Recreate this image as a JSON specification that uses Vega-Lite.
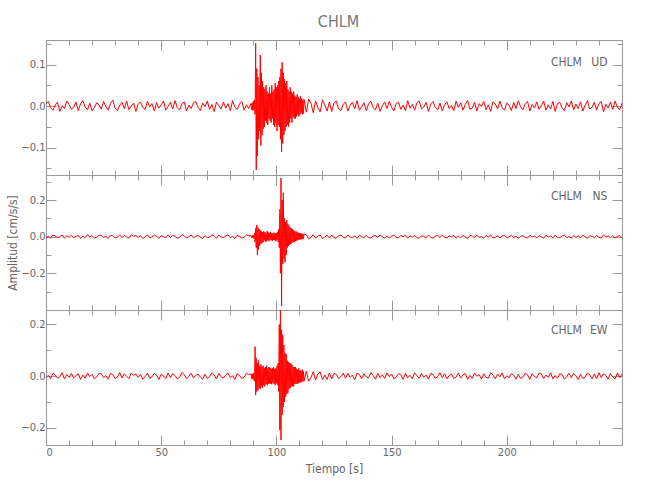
{
"$schema":"https://vega.github.io/schema/vega-lite/v6.json",
"background":"white",
"bounds":"flush",
"padding":{"left":6,"top":14,"right":26,"bottom":5},
"title":{"text":"CHLM","font":"DejaVu Sans Condensed, Liberation Sans, sans-serif","fontSize":16,"fontWeight":"normal","color":"#777","anchor":"middle","offset":9,"dx":23},
"spacing":0,
"config":{"view":{"stroke":"#999","strokeWidth":1},"concat":{"spacing":0},
"axis":{"domain":false,"grid":false,"tickColor":"#999","tickWidth":1,"labelColor":"#666","labelFont":"DejaVu Sans Condensed, Liberation Sans, sans-serif","labelFontSize":11,"titleFont":"DejaVu Sans Condensed, Liberation Sans, sans-serif","titleFontSize":12,"titleColor":"#666","titleFontWeight":"normal"}},
"datasets":{
"lab":[{"p":"UD","t":232.6,"v":0.106,"s":"CHLM"},{"p":"UD","t":243.7,"v":0.106,"s":"UD"},{"p":"NS","t":232.6,"v":0.222,"s":"CHLM"},{"p":"NS","t":243.7,"v":0.222,"s":"NS"},{"p":"EW","t":232.6,"v":0.178,"s":"CHLM"},{"p":"EW","t":243.7,"v":0.178,"s":"EW"}],
"ud":[{"t":0,"v":0.006},{"t":1,"v":0.011},{"t":2,"v":-0.004},{"t":3,"v":-0.010},{"t":4,"v":0.002},{"t":5,"v":0.009},{"t":6,"v":-0.013},{"t":7,"v":0.001},{"t":8,"v":-0.006},{"t":9,"v":0.012},{"t":10,"v":0.004},{"t":11,"v":-0.008},{"t":12,"v":-0.003},{"t":13,"v":0.010},{"t":14,"v":-0.011},{"t":15,"v":0.005},{"t":16,"v":0.013},{"t":17,"v":-0.002},{"t":18,"v":-0.009},{"t":19,"v":0.007},{"t":20,"v":-0.012},{"t":21,"v":-0.004},{"t":22,"v":0.008},{"t":23,"v":0.003},{"t":24,"v":-0.007},{"t":25,"v":0.011},{"t":26,"v":-0.001},{"t":27,"v":-0.010},{"t":28,"v":0.006},{"t":29,"v":0.014},{"t":30,"v":-0.005},{"t":31,"v":-0.011},{"t":32,"v":0.002},{"t":33,"v":0.009},{"t":34,"v":-0.006},{"t":35,"v":0.012},{"t":36,"v":-0.009},{"t":37,"v":0.000},{"t":38,"v":0.007},{"t":39,"v":-0.013},{"t":40,"v":0.004},{"t":41,"v":0.010},{"t":42,"v":-0.003},{"t":43,"v":-0.008},{"t":44,"v":0.011},{"t":45,"v":-0.002},{"t":46,"v":0.006},{"t":47,"v":-0.012},{"t":48,"v":0.008},{"t":49,"v":-0.005},{"t":50,"v":0.003},{"t":51,"v":0.012},{"t":52,"v":-0.010},{"t":53,"v":-0.001},{"t":54,"v":0.009},{"t":55,"v":-0.007},{"t":56,"v":0.013},{"t":57,"v":-0.004},{"t":58,"v":-0.009},{"t":59,"v":0.005},{"t":60,"v":0.010},{"t":61,"v":-0.012},{"t":62,"v":0.002},{"t":63,"v":-0.006},{"t":64,"v":0.008},{"t":65,"v":0.011},{"t":66,"v":-0.003},{"t":67,"v":-0.011},{"t":68,"v":0.007},{"t":69,"v":-0.002},{"t":70,"v":0.012},{"t":71,"v":-0.008},{"t":72,"v":0.004},{"t":73,"v":-0.013},{"t":74,"v":0.009},{"t":75,"v":0.001},{"t":76,"v":-0.007},{"t":77,"v":0.010},{"t":78,"v":-0.005},{"t":79,"v":0.006},{"t":80,"v":-0.011},{"t":81,"v":0.013},{"t":82,"v":-0.003},{"t":83,"v":-0.008},{"t":84,"v":0.005},{"t":85,"v":0.011},{"t":86,"v":-0.010},{"t":87,"v":0.003},{"t":88,"v":-0.006},
{"t":89,"v":0.006},{"t":89.25,"v":-0.009},{"t":89.5,"v":0.008},{"t":89.75,"v":-0.011},{"t":90,"v":0.012},{"t":90.25,"v":-0.010},{"t":90.5,"v":0.015},{"t":90.75,"v":-0.02},{"t":91,"v":0.151},{"t":91.25,"v":-0.154},{"t":91.5,"v":0.09},{"t":91.75,"v":-0.12},{"t":92,"v":0.07},{"t":92.25,"v":-0.08},{"t":92.5,"v":0.05},{"t":92.75,"v":-0.06},{"t":93,"v":0.123},{"t":93.25,"v":-0.095},{"t":93.5,"v":0.08},{"t":93.75,"v":-0.07},{"t":94,"v":0.06},{"t":94.25,"v":-0.055},{"t":94.5,"v":0.045},{"t":94.75,"v":-0.05},{"t":95,"v":0.04},{"t":95.25,"v":-0.035},{"t":95.5,"v":0.05},{"t":95.75,"v":-0.04},{"t":96,"v":0.035},{"t":96.25,"v":-0.045},{"t":96.5,"v":0.03},{"t":96.75,"v":-0.03},{"t":97,"v":0.045},{"t":97.25,"v":-0.035},{"t":97.5,"v":0.03},{"t":97.75,"v":-0.04},{"t":98,"v":0.05},{"t":98.25,"v":-0.03},{"t":98.5,"v":0.035},{"t":98.75,"v":-0.045},{"t":99,"v":0.04},{"t":99.25,"v":-0.05},{"t":99.5,"v":0.055},{"t":99.75,"v":-0.04},{"t":100,"v":0.045},{"t":100.25,"v":-0.06},{"t":100.5,"v":0.05},{"t":100.75,"v":-0.045},{"t":101,"v":0.06},{"t":101.25,"v":-0.05},{"t":101.5,"v":0.07},{"t":101.75,"v":-0.08},{"t":102,"v":0.09},{"t":102.25,"v":-0.11},{"t":102.5,"v":0.105},{"t":102.75,"v":-0.09},{"t":103,"v":0.08},{"t":103.25,"v":-0.07},{"t":103.5,"v":0.065},{"t":103.75,"v":-0.06},{"t":104,"v":0.055},{"t":104.25,"v":-0.05},{"t":104.5,"v":0.06},{"t":104.75,"v":-0.045},{"t":105,"v":0.04},{"t":105.25,"v":-0.05},{"t":105.5,"v":0.035},{"t":105.75,"v":-0.04},{"t":106,"v":0.045},{"t":106.25,"v":-0.03},{"t":106.5,"v":0.035},{"t":106.75,"v":-0.04},{"t":107,"v":0.03},{"t":107.25,"v":-0.025},{"t":107.5,"v":0.035},{"t":107.75,"v":-0.03},{"t":108,"v":0.025},{"t":108.25,"v":-0.03},{"t":108.5,"v":0.022},{"t":108.75,"v":-0.025},{"t":109,"v":0.028},{"t":109.25,"v":-0.02},{"t":109.5,"v":0.022},{"t":109.75,"v":-0.025},{"t":110,"v":0.018},{"t":110.25,"v":-0.02},{"t":110.5,"v":0.024},{"t":110.75,"v":-0.016},{"t":111,"v":0.018},{"t":111.25,"v":-0.02},{"t":111.5,"v":0.015},{"t":111.75,"v":-0.018},{"t":112,"v":0.016},
{"t":113,"v":-0.015},{"t":114,"v":0.017},{"t":115,"v":0.006},{"t":116,"v":-0.016},{"t":117,"v":0.012},{"t":118,"v":-0.004},{"t":119,"v":-0.014},{"t":120,"v":0.015},{"t":121,"v":0.003},{"t":122,"v":-0.012},{"t":123,"v":0.010},{"t":124,"v":-0.013},{"t":125,"v":0.008},{"t":126,"v":0.012},{"t":127,"v":-0.007},{"t":128,"v":-0.011},{"t":129,"v":0.004},{"t":130,"v":0.010},{"t":131,"v":-0.012},{"t":132,"v":0.002},{"t":133,"v":0.009},{"t":134,"v":-0.006},{"t":135,"v":0.013},{"t":136,"v":-0.010},{"t":137,"v":-0.002},{"t":138,"v":0.008},{"t":139,"v":-0.011},{"t":140,"v":0.005},{"t":141,"v":0.012},{"t":142,"v":-0.004},{"t":143,"v":-0.009},{"t":144,"v":0.007},{"t":145,"v":-0.013},{"t":146,"v":0.001},{"t":147,"v":0.010},{"t":148,"v":-0.006},{"t":149,"v":0.011},{"t":150,"v":-0.003},{"t":151,"v":-0.012},{"t":152,"v":0.006},{"t":153,"v":0.009},{"t":154,"v":-0.008},{"t":155,"v":0.002},{"t":156,"v":-0.011},{"t":157,"v":0.013},{"t":158,"v":-0.005},{"t":159,"v":0.004},{"t":160,"v":-0.010},{"t":161,"v":0.008},{"t":162,"v":0.012},{"t":163,"v":-0.007},{"t":164,"v":-0.002},{"t":165,"v":0.009},{"t":166,"v":-0.013},{"t":167,"v":0.005},{"t":168,"v":0.011},{"t":169,"v":-0.004},{"t":170,"v":-0.009},{"t":171,"v":0.007},{"t":172,"v":-0.012},{"t":173,"v":0.003},{"t":174,"v":0.010},{"t":175,"v":-0.006},{"t":176,"v":0.001},{"t":177,"v":-0.011},{"t":178,"v":0.012},{"t":179,"v":-0.003},{"t":180,"v":0.008},{"t":181,"v":-0.010},{"t":182,"v":0.004},{"t":183,"v":0.013},{"t":184,"v":-0.008},{"t":185,"v":-0.005},{"t":186,"v":0.009},{"t":187,"v":-0.012},{"t":188,"v":0.006},{"t":189,"v":-0.001},{"t":190,"v":0.011},{"t":191,"v":-0.009},{"t":192,"v":0.003},{"t":193,"v":-0.013},{"t":194,"v":0.010},{"t":195,"v":0.005},{"t":196,"v":-0.007},{"t":197,"v":0.012},{"t":198,"v":-0.004},{"t":199,"v":-0.010},{"t":200,"v":0.007},{"t":201,"v":0.002},{"t":202,"v":-0.011},{"t":203,"v":0.009},{"t":204,"v":-0.006},{"t":205,"v":0.013},{"t":206,"v":-0.002},{"t":207,"v":-0.009},{"t":208,"v":0.006},{"t":209,"v":0.011},{"t":210,"v":-0.012},{"t":211,"v":0.004},{"t":212,"v":-0.005},{"t":213,"v":0.010},{"t":214,"v":-0.008},{"t":215,"v":0.001},{"t":216,"v":0.012},{"t":217,"v":-0.010},{"t":218,"v":0.003},{"t":219,"v":-0.007},{"t":220,"v":0.011},{"t":221,"v":-0.013},{"t":222,"v":0.006},{"t":223,"v":0.009},{"t":224,"v":-0.004},{"t":225,"v":-0.011},{"t":226,"v":0.008},{"t":227,"v":-0.002},{"t":228,"v":0.012},{"t":229,"v":-0.009},{"t":230,"v":0.005},{"t":231,"v":-0.006},{"t":232,"v":0.010},{"t":233,"v":-0.012},{"t":234,"v":0.002},{"t":235,"v":0.013},{"t":236,"v":-0.007},{"t":237,"v":-0.003},{"t":238,"v":0.009},{"t":239,"v":-0.010},{"t":240,"v":0.006},{"t":241,"v":0.011},{"t":242,"v":-0.014},{"t":243,"v":0.004},{"t":244,"v":-0.005},{"t":245,"v":0.010},{"t":246,"v":-0.008},{"t":247,"v":0.012},{"t":248,"v":-0.003},{"t":249,"v":-0.009},{"t":250,"v":0.007}],
"ns":[{"t":0,"v":-0.005},{"t":1,"v":0.002},{"t":2,"v":-0.008},{"t":3,"v":0.009},{"t":4,"v":0.004},{"t":5,"v":-0.006},{"t":6,"v":-0.002},{"t":7,"v":0.010},{"t":8,"v":-0.009},{"t":9,"v":0.005},{"t":10,"v":-0.004},{"t":11,"v":0.008},{"t":12,"v":-0.006},{"t":13,"v":0.001},{"t":14,"v":0.007},{"t":15,"v":-0.010},{"t":16,"v":0.003},{"t":17,"v":-0.006},{"t":18,"v":0.010},{"t":19,"v":-0.002},{"t":20,"v":0.006},{"t":21,"v":-0.009},{"t":22,"v":-0.002},{"t":23,"v":0.009},{"t":24,"v":0.006},{"t":25,"v":-0.005},{"t":26,"v":0.002},{"t":27,"v":-0.010},{"t":28,"v":0.008},{"t":29,"v":0.004},{"t":30,"v":-0.007},{"t":31,"v":-0.003},{"t":32,"v":0.010},{"t":33,"v":-0.006},{"t":34,"v":0.007},{"t":35,"v":-0.001},{"t":36,"v":-0.008},{"t":37,"v":0.010},{"t":38,"v":0.002},{"t":39,"v":0.006},{"t":40,"v":-0.004},{"t":41,"v":0.005},{"t":42,"v":-0.010},{"t":43,"v":-0.002},{"t":44,"v":0.009},{"t":45,"v":-0.006},{"t":46,"v":-0.002},{"t":47,"v":0.008},{"t":48,"v":0.003},{"t":49,"v":-0.010},{"t":50,"v":0.006},{"t":51,"v":0.000},{"t":52,"v":-0.007},{"t":53,"v":0.010},{"t":54,"v":-0.005},{"t":55,"v":0.007},{"t":56,"v":0.002},{"t":57,"v":-0.009},{"t":58,"v":-0.004},{"t":59,"v":0.011},{"t":60,"v":0.005},{"t":61,"v":-0.008},{"t":62,"v":-0.001},{"t":63,"v":0.009},{"t":64,"v":-0.006},{"t":65,"v":0.002},{"t":66,"v":0.006},{"t":67,"v":-0.003},{"t":68,"v":-0.010},{"t":69,"v":0.006},{"t":70,"v":-0.007},{"t":71,"v":-0.002},{"t":72,"v":0.010},{"t":73,"v":0.004},{"t":74,"v":-0.009},{"t":75,"v":0.008},{"t":76,"v":-0.002},{"t":77,"v":-0.006},{"t":78,"v":0.003},{"t":79,"v":0.010},{"t":80,"v":-0.005},{"t":81,"v":0.001},{"t":82,"v":-0.010},{"t":83,"v":0.007},{"t":84,"v":0.002},{"t":85,"v":-0.008},{"t":86,"v":-0.003},{"t":87,"v":0.009},{"t":88,"v":0.005},
{"t":89,"v":0.005},{"t":89.25,"v":-0.006},{"t":89.5,"v":0.007},{"t":89.75,"v":-0.005},{"t":90,"v":0.008},{"t":90.25,"v":-0.01},{"t":90.5,"v":0.02},{"t":90.75,"v":-0.03},{"t":91,"v":0.045},{"t":91.25,"v":-0.06},{"t":91.5,"v":0.064},{"t":91.75,"v":-0.1},{"t":92,"v":0.05},{"t":92.25,"v":-0.07},{"t":92.5,"v":0.04},{"t":92.75,"v":-0.05},{"t":93,"v":0.035},{"t":93.25,"v":-0.04},{"t":93.5,"v":0.03},{"t":93.75,"v":-0.035},{"t":94,"v":0.025},{"t":94.25,"v":-0.03},{"t":94.5,"v":0.03},{"t":94.75,"v":-0.02},{"t":95,"v":0.025},{"t":95.25,"v":-0.03},{"t":95.5,"v":0.02},{"t":95.75,"v":-0.025},{"t":96,"v":0.03},{"t":96.25,"v":-0.02},{"t":96.5,"v":0.022},{"t":96.75,"v":-0.025},{"t":97,"v":0.02},{"t":97.25,"v":-0.018},{"t":97.5,"v":0.025},{"t":97.75,"v":-0.02},{"t":98,"v":0.018},{"t":98.25,"v":-0.022},{"t":98.5,"v":0.02},{"t":98.75,"v":-0.018},{"t":99,"v":0.022},{"t":99.25,"v":-0.02},{"t":99.5,"v":0.018},{"t":99.75,"v":-0.025},{"t":100,"v":0.02},{"t":100.25,"v":-0.018},{"t":100.5,"v":0.025},{"t":100.75,"v":-0.03},{"t":101,"v":0.04},{"t":101.25,"v":-0.06},{"t":101.5,"v":0.15},{"t":101.75,"v":-0.2},{"t":102,"v":0.32},{"t":102.25,"v":-0.38},{"t":102.5,"v":0.2},{"t":102.75,"v":-0.15},{"t":103,"v":0.24},{"t":103.25,"v":-0.12},{"t":103.5,"v":0.1},{"t":103.75,"v":-0.14},{"t":104,"v":0.08},{"t":104.25,"v":-0.1},{"t":104.5,"v":0.09},{"t":104.75,"v":-0.06},{"t":105,"v":0.07},{"t":105.25,"v":-0.05},{"t":105.5,"v":0.06},{"t":105.75,"v":-0.045},{"t":106,"v":0.05},{"t":106.25,"v":-0.04},{"t":106.5,"v":0.045},{"t":106.75,"v":-0.035},{"t":107,"v":0.04},{"t":107.25,"v":-0.03},{"t":107.5,"v":0.035},{"t":107.75,"v":-0.03},{"t":108,"v":0.028},{"t":108.25,"v":-0.025},{"t":108.5,"v":0.03},{"t":108.75,"v":-0.022},{"t":109,"v":0.025},{"t":109.25,"v":-0.02},{"t":109.5,"v":0.022},{"t":109.75,"v":-0.018},{"t":110,"v":0.02},{"t":110.25,"v":-0.016},{"t":110.5,"v":0.018},{"t":110.75,"v":-0.015},{"t":111,"v":0.016},{"t":111.25,"v":-0.014},{"t":111.5,"v":0.015},{"t":111.75,"v":-0.012},{"t":112,"v":0.013},
{"t":113,"v":0.011},{"t":114,"v":-0.012},{"t":115,"v":-0.004},{"t":116,"v":0.011},{"t":117,"v":-0.008},{"t":118,"v":0.003},{"t":119,"v":0.010},{"t":120,"v":-0.011},{"t":121,"v":-0.002},{"t":122,"v":0.008},{"t":123,"v":-0.007},{"t":124,"v":0.009},{"t":125,"v":-0.006},{"t":126,"v":-0.008},{"t":127,"v":0.005},{"t":128,"v":0.008},{"t":129,"v":-0.003},{"t":130,"v":-0.007},{"t":131,"v":0.008},{"t":132,"v":-0.001},{"t":133,"v":-0.006},{"t":134,"v":0.004},{"t":135,"v":-0.009},{"t":136,"v":0.007},{"t":137,"v":0.001},{"t":138,"v":-0.006},{"t":139,"v":0.008},{"t":140,"v":-0.004},{"t":141,"v":-0.008},{"t":142,"v":0.003},{"t":143,"v":0.006},{"t":144,"v":-0.005},{"t":145,"v":0.009},{"t":146,"v":-0.001},{"t":147,"v":-0.007},{"t":148,"v":0.004},{"t":149,"v":-0.008},{"t":150,"v":0.002},{"t":151,"v":0.008},{"t":152,"v":-0.004},{"t":153,"v":-0.006},{"t":154,"v":0.006},{"t":155,"v":-0.001},{"t":156,"v":0.008},{"t":157,"v":-0.009},{"t":158,"v":0.004},{"t":159,"v":-0.003},{"t":160,"v":0.007},{"t":161,"v":-0.006},{"t":162,"v":-0.008},{"t":163,"v":0.005},{"t":164,"v":0.001},{"t":165,"v":-0.006},{"t":166,"v":0.009},{"t":167,"v":-0.004},{"t":168,"v":-0.008},{"t":169,"v":0.003},{"t":170,"v":0.006},{"t":171,"v":-0.005},{"t":172,"v":0.008},{"t":173,"v":-0.002},{"t":174,"v":-0.007},{"t":175,"v":0.004},{"t":176,"v":-0.001},{"t":177,"v":0.008},{"t":178,"v":-0.008},{"t":179,"v":0.002},{"t":180,"v":-0.006},{"t":181,"v":0.007},{"t":182,"v":-0.003},{"t":183,"v":-0.009},{"t":184,"v":0.006},{"t":185,"v":0.004},{"t":186,"v":-0.006},{"t":187,"v":0.008},{"t":188,"v":-0.004},{"t":189,"v":0.001},{"t":190,"v":-0.008},{"t":191,"v":0.006},{"t":192,"v":-0.002},{"t":193,"v":0.009},{"t":194,"v":-0.007},{"t":195,"v":-0.004},{"t":196,"v":0.005},{"t":197,"v":-0.008},{"t":198,"v":0.003},{"t":199,"v":0.007},{"t":200,"v":-0.005},{"t":201,"v":-0.001},{"t":202,"v":0.008},{"t":203,"v":-0.006},{"t":204,"v":0.004},{"t":205,"v":-0.009},{"t":206,"v":0.001},{"t":207,"v":0.006},{"t":208,"v":-0.004},{"t":209,"v":-0.008},{"t":210,"v":0.008},{"t":211,"v":-0.003},{"t":212,"v":0.004},{"t":213,"v":-0.007},{"t":214,"v":0.006},{"t":215,"v":-0.001},{"t":216,"v":-0.008},{"t":217,"v":0.007},{"t":218,"v":-0.002},{"t":219,"v":0.005},{"t":220,"v":-0.008},{"t":221,"v":0.009},{"t":222,"v":-0.004},{"t":223,"v":-0.006},{"t":224,"v":0.003},{"t":225,"v":0.008},{"t":226,"v":-0.006},{"t":227,"v":0.001},{"t":228,"v":-0.008},{"t":229,"v":0.006},{"t":230,"v":-0.004},{"t":231,"v":0.004},{"t":232,"v":-0.007},{"t":233,"v":0.008},{"t":234,"v":-0.001},{"t":235,"v":-0.009},{"t":236,"v":0.005},{"t":237,"v":0.002},{"t":238,"v":-0.006},{"t":239,"v":0.007},{"t":240,"v":-0.004},{"t":241,"v":-0.008},{"t":242,"v":0.010},{"t":243,"v":-0.003},{"t":244,"v":0.004},{"t":245,"v":-0.007},{"t":246,"v":0.006},{"t":247,"v":-0.008},{"t":248,"v":0.002},{"t":249,"v":0.006},{"t":250,"v":-0.005}],
"ew":[{"t":0,"v":-0.006},{"t":1,"v":0.003},{"t":2,"v":-0.010},{"t":3,"v":0.011},{"t":4,"v":0.005},{"t":5,"v":-0.008},{"t":6,"v":-0.003},{"t":7,"v":0.013},{"t":8,"v":-0.011},{"t":9,"v":0.006},{"t":10,"v":-0.005},{"t":11,"v":0.010},{"t":12,"v":-0.007},{"t":13,"v":0.001},{"t":14,"v":0.009},{"t":15,"v":-0.013},{"t":16,"v":0.004},{"t":17,"v":-0.008},{"t":18,"v":0.012},{"t":19,"v":-0.002},{"t":20,"v":0.007},{"t":21,"v":-0.011},{"t":22,"v":-0.003},{"t":23,"v":0.011},{"t":24,"v":0.008},{"t":25,"v":-0.006},{"t":26,"v":0.002},{"t":27,"v":-0.012},{"t":28,"v":0.010},{"t":29,"v":0.005},{"t":30,"v":-0.009},{"t":31,"v":-0.004},{"t":32,"v":0.013},{"t":33,"v":-0.007},{"t":34,"v":0.009},{"t":35,"v":-0.001},{"t":36,"v":-0.010},{"t":37,"v":0.012},{"t":38,"v":0.003},{"t":39,"v":0.008},{"t":40,"v":-0.005},{"t":41,"v":0.006},{"t":42,"v":-0.012},{"t":43,"v":-0.002},{"t":44,"v":0.011},{"t":45,"v":-0.008},{"t":46,"v":-0.003},{"t":47,"v":0.010},{"t":48,"v":0.004},{"t":49,"v":-0.013},{"t":50,"v":0.007},{"t":51,"v":0.000},{"t":52,"v":-0.009},{"t":53,"v":0.012},{"t":54,"v":-0.006},{"t":55,"v":0.009},{"t":56,"v":0.002},{"t":57,"v":-0.011},{"t":58,"v":-0.005},{"t":59,"v":0.014},{"t":60,"v":0.006},{"t":61,"v":-0.010},{"t":62,"v":-0.001},{"t":63,"v":0.011},{"t":64,"v":-0.007},{"t":65,"v":0.003},{"t":66,"v":0.008},{"t":67,"v":-0.004},{"t":68,"v":-0.012},{"t":69,"v":0.007},{"t":70,"v":-0.009},{"t":71,"v":-0.002},{"t":72,"v":0.013},{"t":73,"v":0.005},{"t":74,"v":-0.011},{"t":75,"v":0.010},{"t":76,"v":-0.003},{"t":77,"v":-0.008},{"t":78,"v":0.004},{"t":79,"v":0.012},{"t":80,"v":-0.006},{"t":81,"v":0.001},{"t":82,"v":-0.013},{"t":83,"v":0.009},{"t":84,"v":0.002},{"t":85,"v":-0.010},{"t":86,"v":-0.004},{"t":87,"v":0.011},{"t":88,"v":0.006},
{"t":89,"v":0.008},{"t":89.25,"v":-0.01},{"t":89.5,"v":0.009},{"t":89.75,"v":-0.012},{"t":90,"v":0.01},{"t":90.25,"v":-0.015},{"t":90.5,"v":-0.02},{"t":90.75,"v":0.114},{"t":91,"v":-0.074},{"t":91.25,"v":0.07},{"t":91.5,"v":-0.06},{"t":91.75,"v":0.05},{"t":92,"v":-0.055},{"t":92.25,"v":0.06},{"t":92.5,"v":-0.045},{"t":92.75,"v":0.04},{"t":93,"v":-0.05},{"t":93.25,"v":0.045},{"t":93.5,"v":-0.04},{"t":93.75,"v":0.035},{"t":94,"v":-0.045},{"t":94.25,"v":0.04},{"t":94.5,"v":-0.035},{"t":94.75,"v":0.03},{"t":95,"v":-0.04},{"t":95.25,"v":0.035},{"t":95.5,"v":-0.03},{"t":95.75,"v":0.04},{"t":96,"v":-0.035},{"t":96.25,"v":0.03},{"t":96.5,"v":-0.03},{"t":96.75,"v":0.035},{"t":97,"v":-0.028},{"t":97.25,"v":0.032},{"t":97.5,"v":-0.03},{"t":97.75,"v":0.028},{"t":98,"v":-0.032},{"t":98.25,"v":0.03},{"t":98.5,"v":-0.025},{"t":98.75,"v":0.035},{"t":99,"v":-0.03},{"t":99.25,"v":0.028},{"t":99.5,"v":-0.035},{"t":99.75,"v":0.03},{"t":100,"v":-0.028},{"t":100.25,"v":0.04},{"t":100.5,"v":-0.035},{"t":100.75,"v":0.05},{"t":101,"v":-0.06},{"t":101.25,"v":0.2},{"t":101.5,"v":-0.21},{"t":101.75,"v":0.256},{"t":102,"v":-0.248},{"t":102.25,"v":0.18},{"t":102.5,"v":-0.15},{"t":102.75,"v":0.16},{"t":103,"v":-0.12},{"t":103.25,"v":0.12},{"t":103.5,"v":-0.1},{"t":103.75,"v":0.09},{"t":104,"v":-0.08},{"t":104.25,"v":0.085},{"t":104.5,"v":-0.07},{"t":104.75,"v":0.06},{"t":105,"v":-0.065},{"t":105.25,"v":0.055},{"t":105.5,"v":-0.05},{"t":105.75,"v":0.05},{"t":106,"v":-0.045},{"t":106.25,"v":0.05},{"t":106.5,"v":-0.04},{"t":106.75,"v":0.045},{"t":107,"v":-0.04},{"t":107.25,"v":0.035},{"t":107.5,"v":-0.04},{"t":107.75,"v":0.035},{"t":108,"v":-0.03},{"t":108.25,"v":0.035},{"t":108.5,"v":-0.03},{"t":108.75,"v":0.028},{"t":109,"v":-0.03},{"t":109.25,"v":0.025},{"t":109.5,"v":-0.028},{"t":109.75,"v":0.03},{"t":110,"v":-0.025},{"t":110.25,"v":0.022},{"t":110.5,"v":-0.025},{"t":110.75,"v":0.02},{"t":111,"v":-0.022},{"t":111.25,"v":0.025},{"t":111.5,"v":-0.02},{"t":111.75,"v":0.018},{"t":112,"v":-0.02},
{"t":113,"v":0.019},{"t":114,"v":-0.02},{"t":115,"v":-0.006},{"t":116,"v":0.017},{"t":117,"v":-0.015},{"t":118,"v":0.008},{"t":119,"v":0.016},{"t":120,"v":-0.014},{"t":121,"v":0.004},{"t":122,"v":-0.013},{"t":123,"v":0.012},{"t":124,"v":-0.011},{"t":125,"v":0.010},{"t":126,"v":0.007},{"t":127,"v":-0.009},{"t":128,"v":-0.003},{"t":129,"v":0.012},{"t":130,"v":-0.008},{"t":131,"v":0.010},{"t":132,"v":-0.005},{"t":133,"v":0.004},{"t":134,"v":-0.014},{"t":135,"v":0.011},{"t":136,"v":0.006},{"t":137,"v":-0.010},{"t":138,"v":0.009},{"t":139,"v":-0.003},{"t":140,"v":-0.007},{"t":141,"v":0.013},{"t":142,"v":0.002},{"t":143,"v":-0.012},{"t":144,"v":0.010},{"t":145,"v":-0.006},{"t":146,"v":0.005},{"t":147,"v":-0.009},{"t":148,"v":0.012},{"t":149,"v":-0.002},{"t":150,"v":0.008},{"t":151,"v":-0.011},{"t":152,"v":-0.004},{"t":153,"v":0.009},{"t":154,"v":0.006},{"t":155,"v":-0.013},{"t":156,"v":0.011},{"t":157,"v":-0.007},{"t":158,"v":0.003},{"t":159,"v":-0.010},{"t":160,"v":0.012},{"t":161,"v":0.001},{"t":162,"v":-0.008},{"t":163,"v":0.010},{"t":164,"v":-0.005},{"t":165,"v":0.004},{"t":166,"v":-0.012},{"t":167,"v":0.011},{"t":168,"v":0.006},{"t":169,"v":-0.009},{"t":170,"v":-0.002},{"t":171,"v":0.013},{"t":172,"v":-0.006},{"t":173,"v":0.009},{"t":174,"v":-0.011},{"t":175,"v":0.002},{"t":176,"v":0.007},{"t":177,"v":-0.010},{"t":178,"v":-0.004},{"t":179,"v":0.012},{"t":180,"v":-0.007},{"t":181,"v":0.005},{"t":182,"v":0.010},{"t":183,"v":-0.013},{"t":184,"v":0.003},{"t":185,"v":-0.009},{"t":186,"v":0.011},{"t":187,"v":-0.001},{"t":188,"v":0.006},{"t":189,"v":-0.012},{"t":190,"v":0.009},{"t":191,"v":-0.005},{"t":192,"v":-0.008},{"t":193,"v":0.013},{"t":194,"v":0.004},{"t":195,"v":-0.010},{"t":196,"v":0.008},{"t":197,"v":-0.003},{"t":198,"v":0.012},{"t":199,"v":-0.011},{"t":200,"v":0.001},{"t":201,"v":-0.006},{"t":202,"v":0.010},{"t":203,"v":0.003},{"t":204,"v":-0.012},{"t":205,"v":0.007},{"t":206,"v":-0.009},{"t":207,"v":-0.004},{"t":208,"v":0.011},{"t":209,"v":0.005},{"t":210,"v":-0.013},{"t":211,"v":0.009},{"t":212,"v":-0.002},{"t":213,"v":-0.007},{"t":214,"v":0.012},{"t":215,"v":0.008},{"t":216,"v":-0.010},{"t":217,"v":0.004},{"t":218,"v":-0.005},{"t":219,"v":0.013},{"t":220,"v":-0.011},{"t":221,"v":0.002},{"t":222,"v":-0.008},{"t":223,"v":0.009},{"t":224,"v":0.006},{"t":225,"v":-0.012},{"t":226,"v":-0.003},{"t":227,"v":0.011},{"t":228,"v":-0.006},{"t":229,"v":0.010},{"t":230,"v":0.001},{"t":231,"v":-0.013},{"t":232,"v":0.007},{"t":233,"v":-0.009},{"t":234,"v":-0.004},{"t":235,"v":0.012},{"t":236,"v":0.005},{"t":237,"v":-0.011},{"t":238,"v":0.008},{"t":239,"v":-0.010},{"t":240,"v":0.013},{"t":241,"v":-0.006},{"t":242,"v":0.009},{"t":243,"v":0.002},{"t":244,"v":-0.012},{"t":245,"v":0.010},{"t":246,"v":-0.004},{"t":247,"v":-0.011},{"t":248,"v":0.012},{"t":249,"v":-0.007},{"t":250,"v":0.008}]
},
"vconcat":[
{"width":576,"height":135,
"layer":[
{"data":{"name":"ud"},"mark":{"type":"line","color":"#ff0000","strokeWidth":1},
"encoding":{"x":{"field":"t","type":"quantitative","scale":{"domain":[0,250],"nice":false,"zero":false},"axis":{"orient":"bottom","values":[0,50,100,150,200],"tickSize":-10,"labels":false,"title":null}},
"y":{"field":"v","type":"quantitative","scale":{"domain":[-0.166,0.159],"nice":false,"zero":false},"axis":{"orient":"left","values":[-0.1,0,0.1],"tickSize":-10,"labelPadding":11,"format":".1f","title":null}}}},
{"data":{"name":"lab"},"transform":[{"filter":"datum.p==='UD'"}],"mark":{"type":"text","align":"right","baseline":"middle","font":"DejaVu Sans Condensed, Liberation Sans, sans-serif","fontSize":12,"color":"#666"},
"encoding":{"x":{"field":"t","type":"quantitative","scale":{"domain":[0,250],"nice":false,"zero":false},"axis":{"orient":"top","values":[0,50,100,150,200],"tickSize":-10,"labels":false,"title":null}},
"y":{"field":"v","type":"quantitative","scale":{"domain":[-0.166,0.159],"nice":false,"zero":false},"axis":{"orient":"right","values":[-0.1,0,0.1],"tickSize":-10,"labels":false,"title":null}},"text":{"field":"s"}}},
{"data":{"name":"lab"},"transform":[{"filter":"datum.p==='UD'"}],"mark":{"type":"text"},
"encoding":{"x":{"field":"t","type":"quantitative","scale":{"domain":[0,250],"nice":false,"zero":false},"axis":{"orient":"bottom","values":[10,20,30,40,60,70,80,90,110,120,130,140,160,170,180,190,210,220,230,240],"tickSize":-5,"labels":false,"title":null}},
"y":{"field":"v","type":"quantitative","scale":{"domain":[-0.166,0.159],"nice":false,"zero":false},"axis":{"orient":"left","values":[-0.15,-0.05,0.05,0.15],"tickSize":-5,"labels":false,"title":null}},"text":{"value":""}}},
{"data":{"name":"lab"},"transform":[{"filter":"datum.p==='UD'"}],"mark":{"type":"text"},
"encoding":{"x":{"field":"t","type":"quantitative","scale":{"domain":[0,250],"nice":false,"zero":false},"axis":{"orient":"top","values":[10,20,30,40,60,70,80,90,110,120,130,140,160,170,180,190,210,220,230,240],"tickSize":-5,"labels":false,"title":null}},
"y":{"field":"v","type":"quantitative","scale":{"domain":[-0.166,0.159],"nice":false,"zero":false},"axis":{"orient":"right","values":[-0.15,-0.05,0.05,0.15],"tickSize":-5,"labels":false,"title":null}},"text":{"value":""}}}
],
"resolve":{"axis":{"x":"independent","y":"independent"}}},
{"width":576,"height":135,
"layer":[
{"data":{"name":"ns"},"mark":{"type":"line","color":"#ff0000","strokeWidth":1},
"encoding":{"x":{"field":"t","type":"quantitative","scale":{"domain":[0,250],"nice":false,"zero":false},"axis":{"orient":"bottom","values":[0,50,100,150,200],"tickSize":-10,"labels":false,"title":null}},
"y":{"field":"v","type":"quantitative","scale":{"domain":[-0.401,0.337],"nice":false,"zero":false},"axis":{"orient":"left","values":[-0.2,0,0.2],"tickSize":-10,"labelPadding":11,"format":".1f","title":"Amplitud [cm/s/s]","titlePadding":1}}}},
{"data":{"name":"lab"},"transform":[{"filter":"datum.p==='NS'"}],"mark":{"type":"text","align":"right","baseline":"middle","font":"DejaVu Sans Condensed, Liberation Sans, sans-serif","fontSize":12,"color":"#666"},
"encoding":{"x":{"field":"t","type":"quantitative","scale":{"domain":[0,250],"nice":false,"zero":false},"axis":{"orient":"top","values":[0,50,100,150,200],"tickSize":-10,"labels":false,"title":null}},
"y":{"field":"v","type":"quantitative","scale":{"domain":[-0.401,0.337],"nice":false,"zero":false},"axis":{"orient":"right","values":[-0.2,0,0.2],"tickSize":-10,"labels":false,"title":null}},"text":{"field":"s"}}},
{"data":{"name":"lab"},"transform":[{"filter":"datum.p==='NS'"}],"mark":{"type":"text"},
"encoding":{"x":{"field":"t","type":"quantitative","scale":{"domain":[0,250],"nice":false,"zero":false},"axis":{"orient":"bottom","values":[10,20,30,40,60,70,80,90,110,120,130,140,160,170,180,190,210,220,230,240],"tickSize":-5,"labels":false,"title":null}},
"y":{"field":"v","type":"quantitative","scale":{"domain":[-0.401,0.337],"nice":false,"zero":false},"axis":{"orient":"left","values":[-0.3,-0.1,0.1,0.3],"tickSize":-5,"labels":false,"title":null}},"text":{"value":""}}},
{"data":{"name":"lab"},"transform":[{"filter":"datum.p==='NS'"}],"mark":{"type":"text"},
"encoding":{"x":{"field":"t","type":"quantitative","scale":{"domain":[0,250],"nice":false,"zero":false},"axis":{"orient":"top","values":[10,20,30,40,60,70,80,90,110,120,130,140,160,170,180,190,210,220,230,240],"tickSize":-5,"labels":false,"title":null}},
"y":{"field":"v","type":"quantitative","scale":{"domain":[-0.401,0.337],"nice":false,"zero":false},"axis":{"orient":"right","values":[-0.3,-0.1,0.1,0.3],"tickSize":-5,"labels":false,"title":null}},"text":{"value":""}}}
],
"resolve":{"axis":{"x":"independent","y":"independent"}}},
{"width":576,"height":135,
"layer":[
{"data":{"name":"ew"},"mark":{"type":"line","color":"#ff0000","strokeWidth":1},
"encoding":{"x":{"field":"t","type":"quantitative","scale":{"domain":[0,250],"nice":false,"zero":false},"axis":{"orient":"bottom","values":[0,50,100,150,200],"tickSize":-10,"labelPadding":11,"format":"d","title":"Tiempo [s]","titlePadding":6}},
"y":{"field":"v","type":"quantitative","scale":{"domain":[-0.267,0.256],"nice":false,"zero":false},"axis":{"orient":"left","values":[-0.2,0,0.2],"tickSize":-10,"labelPadding":11,"format":".1f","title":null}}}},
{"data":{"name":"lab"},"transform":[{"filter":"datum.p==='EW'"}],"mark":{"type":"text","align":"right","baseline":"middle","font":"DejaVu Sans Condensed, Liberation Sans, sans-serif","fontSize":12,"color":"#666"},
"encoding":{"x":{"field":"t","type":"quantitative","scale":{"domain":[0,250],"nice":false,"zero":false},"axis":{"orient":"top","values":[0,50,100,150,200],"tickSize":-10,"labels":false,"title":null}},
"y":{"field":"v","type":"quantitative","scale":{"domain":[-0.267,0.256],"nice":false,"zero":false},"axis":{"orient":"right","values":[-0.2,0,0.2],"tickSize":-10,"labels":false,"title":null}},"text":{"field":"s"}}},
{"data":{"name":"lab"},"transform":[{"filter":"datum.p==='EW'"}],"mark":{"type":"text"},
"encoding":{"x":{"field":"t","type":"quantitative","scale":{"domain":[0,250],"nice":false,"zero":false},"axis":{"orient":"bottom","values":[10,20,30,40,60,70,80,90,110,120,130,140,160,170,180,190,210,220,230,240],"tickSize":-5,"labels":false,"title":null}},
"y":{"field":"v","type":"quantitative","scale":{"domain":[-0.267,0.256],"nice":false,"zero":false},"axis":{"orient":"left","values":[-0.1,0.1],"tickSize":-5,"labels":false,"title":null}},"text":{"value":""}}},
{"data":{"name":"lab"},"transform":[{"filter":"datum.p==='EW'"}],"mark":{"type":"text"},
"encoding":{"x":{"field":"t","type":"quantitative","scale":{"domain":[0,250],"nice":false,"zero":false},"axis":{"orient":"top","values":[10,20,30,40,60,70,80,90,110,120,130,140,160,170,180,190,210,220,230,240],"tickSize":-5,"labels":false,"title":null}},
"y":{"field":"v","type":"quantitative","scale":{"domain":[-0.267,0.256],"nice":false,"zero":false},"axis":{"orient":"right","values":[-0.1,0.1],"tickSize":-5,"labels":false,"title":null}},"text":{"value":""}}}
],
"resolve":{"axis":{"x":"independent","y":"independent"}}}
]
}
